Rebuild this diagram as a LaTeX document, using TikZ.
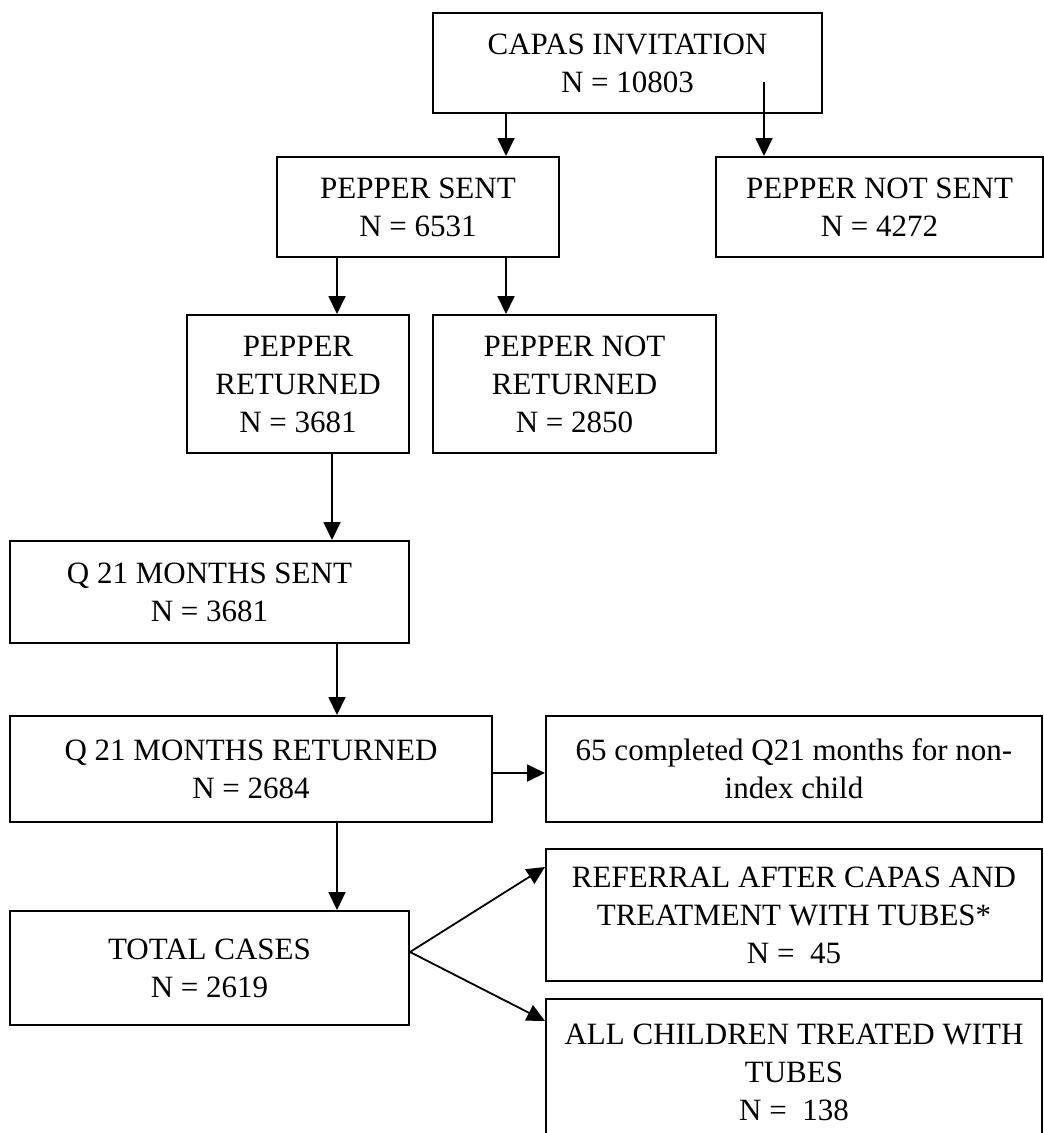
\documentclass[tikz,border=0pt]{standalone}
\usepackage{fontspec}
\setmainfont{Liberation Serif}
\usepackage{tikz}
\usetikzlibrary{arrows.meta,calc,positioning}

\begin{document}
\begin{tikzpicture}[x=1pt,y=-1pt,
    box/.style={draw,line width=2pt,align=center,inner sep=0pt,
      font=\fontsize{31}{38}\selectfont},
    arr/.style={line width=1.8pt,-{Triangle[length=18pt,width=17pt]}}]
  \useasboundingbox (0,0) rectangle (1044,1133);
  % boxes
  \node[box,minimum width=389pt,minimum height=100pt] (invite) at (627.5,63) {CAPAS INVITATION\\N = 10803};
  \node[box,minimum width=282pt,minimum height=100pt] (sent) at (418,207) {PEPPER SENT\\N = 6531};
  \node[box,minimum width=327pt,minimum height=100pt] (notsent) at (879.5,207) {PEPPER NOT SENT\\N = 4272};
  \node[box,minimum width=222pt,minimum height=138pt] (ret) at (298,384) {PEPPER\\RETURNED\\N = 3681};
  \node[box,minimum width=283pt,minimum height=138pt] (notret) at (574.5,384) {PEPPER NOT\\RETURNED\\N = 2850};
  \node[box,minimum width=399pt,minimum height=102pt] (qsent) at (209.5,592) {Q 21 MONTHS SENT\\N = 3681};
  \node[box,minimum width=482pt,minimum height=106pt] (qret) at (251,769) {Q 21 MONTHS RETURNED\\N = 2684};
  \node[box,minimum width=496pt,minimum height=106pt] (nonidx) at (794,769) {65 completed Q21 months for non-\\index child};
  \node[box,minimum width=399pt,minimum height=114pt] (total) at (209.5,968) {TOTAL CASES\\N = 2619};
  \node[box,minimum width=496pt,minimum height=132pt] (referral) at (794,915) {REFERRAL AFTER CAPAS AND\\TREATMENT WITH TUBES*\\N = \ 45};
  \node[box,minimum width=496pt,minimum height=146pt] (allkids) at (794,1072) {ALL CHILDREN TREATED WITH\\TUBES\\N = \ 138};
  % connectors
  \coordinate (split) at (764,82);
  \draw[arr] ([xshift=-121.5pt]invite.south) coordinate (a1) -- (a1 |- sent.north);
  \draw[arr] (split) -- (split |- notsent.north);
  \draw[arr] ([xshift=-81pt]sent.south) coordinate (a2) -- (a2 |- ret.north);
  \draw[arr] ([xshift=88pt]sent.south) coordinate (a3) -- (a3 |- notret.north);
  \draw[arr] ([xshift=34pt]ret.south) coordinate (a4) -- (a4 |- qsent.north);
  \draw[arr] ([xshift=127.5pt]qsent.south) coordinate (a5) -- (a5 |- qret.north);
  \draw[arr] ([yshift=-4pt]qret.east) coordinate (a6) -- (a6 -| nonidx.west);
  \draw[arr] ([xshift=86pt]qret.south) coordinate (a7) -- (a7 |- total.north);
  \coordinate (fork) at ([yshift=16pt]total.east);
  \draw[arr] (fork) -- ([yshift=48pt]referral.west);
  \draw[arr] (fork) -- ([yshift=-23pt]allkids.north west);
\end{tikzpicture}
\end{document}
